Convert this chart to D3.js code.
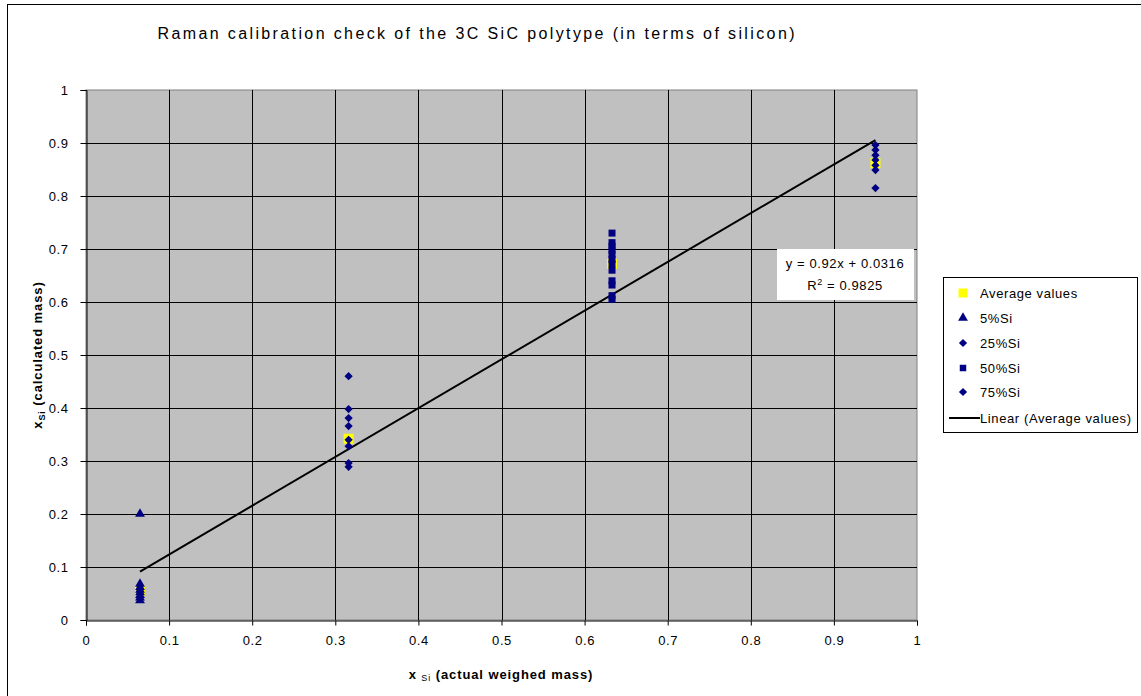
<!DOCTYPE html>
<html><head><meta charset="utf-8">
<script src="https://cdn.jsdelivr.net/npm/d3@7"></script>
<style>body{margin:0;background:#fff;}svg{display:block;font-family:Arial,"Liberation Sans",sans-serif;}</style>
</head><body>
<script>
// ---- data ----
const titleText = "Raman calibration check of the 3C SiC polytype (in terms of silicon)";
const xTicks = [0,0.1,0.2,0.3,0.4,0.5,0.6,0.7,0.8,0.9,1];
const yTicks = [0,0.1,0.2,0.3,0.4,0.5,0.6,0.7,0.8,0.9,1];
const avgX = [0.065, 0.316, 0.633, 0.95];
const avgY = [0.055, 0.342, 0.672, 0.862];
const si5X = 0.065;
const si5Y = [0.2, 0.068, 0.062, 0.057, 0.052, 0.047, 0.042, 0.037];
const si25X = 0.316;
const si25Y = [0.46, 0.398, 0.381, 0.366, 0.34, 0.328, 0.296, 0.289];
const si50X = 0.633;
const si50Y = [0.73, 0.712, 0.705, 0.698, 0.69, 0.68, 0.672, 0.66, 0.64, 0.632, 0.612, 0.605];
const si75X = 0.95;
const si75Y = [0.896, 0.887, 0.877, 0.868, 0.858, 0.849, 0.815];
const trendSlope = 0.92, trendIntercept = 0.0316, r2 = 0.9825;
const legendLabels = ["Average values","5%Si","25%Si","50%Si","75%Si","Linear (Average values)"];

// ---- layout ----
const W = 1141, H = 696;
const L = 86, R = 917, T = 90, B = 620;
const navy = "#000080";
const LS = "0.6px";
const svg = d3.select("body").append("svg").attr("width", W).attr("height", H);

// outer chart border
svg.append("rect").attr("x",7.5).attr("y",4.5).attr("width",W).attr("height",H)
  .attr("fill","#fff").attr("stroke","#000").attr("stroke-width",1);

const x = d3.scaleLinear().domain([0,1]).range([L,R]);
const y = d3.scaleLinear().domain([0,1]).range([B,T]);

// plot area
svg.append("rect").attr("x",L).attr("y",T).attr("width",R-L).attr("height",B-T)
  .attr("fill","#C0C0C0").attr("stroke","#808080").attr("stroke-width",1);

// gridlines
const grid = svg.append("g");
grid.selectAll(".gx").data(xTicks.slice(1,-1)).enter().append("line")
  .attr("x1",d=>Math.round(x(d))+0.5).attr("x2",d=>Math.round(x(d))+0.5)
  .attr("y1",T).attr("y2",B).attr("stroke","#000");
grid.selectAll(".gy").data(yTicks.slice(1,-1)).enter().append("line")
  .attr("y1",d=>Math.round(y(d))+0.5).attr("y2",d=>Math.round(y(d))+0.5)
  .attr("x1",L).attr("x2",R).attr("stroke","#000");

// axes
const xAxis = d3.axisBottom(x).tickValues(xTicks).tickSize(5).tickPadding(8).tickFormat(d3.format("~g"));
const yAxis = d3.axisLeft(y).tickValues(yTicks).tickSize(6).tickPadding(12).tickFormat(d3.format("~g"));
const gx = svg.append("g").attr("transform",`translate(0,${B+0.5})`).call(xAxis);
const gy = svg.append("g").attr("transform",`translate(${L+0.5},0)`).call(yAxis);
[gx,gy].forEach(g=>{
  g.selectAll("text").attr("font-size",13).attr("fill","#000").attr("letter-spacing",LS)
   .attr("font-family","Arial, 'Liberation Sans', sans-serif");
  g.selectAll("line").attr("stroke","#000");
  g.select(".domain").attr("stroke","#000");
});
gx.selectAll("text").attr("dy","0.85em");

// trendline
const x0 = d3.min(avgX), x1 = d3.max(avgX);
svg.append("line")
  .attr("x1",x(x0)).attr("y1",y(trendSlope*x0+trendIntercept))
  .attr("x2",x(x1)).attr("y2",y(trendSlope*x1+trendIntercept))
  .attr("stroke","#000").attr("stroke-width",2);

// markers
const sqPath = s => d3.symbol().type(d3.symbolSquare).size(s)();
const tri = d3.symbol().type(d3.symbolTriangle).size(42);
const diaPath = sqPath(34); // rotated square = diamond
const marks = svg.append("g");
marks.selectAll(".avg").data(avgX.map((v,i)=>[v,avgY[i]])).enter().append("path")
  .attr("d",sqPath(100)).attr("transform",d=>`translate(${x(d[0])},${y(d[1])})`).attr("fill","#FFFF00");
marks.selectAll(".s5").data(si5Y).enter().append("path")
  .attr("d",tri()).attr("transform",d=>`translate(${x(si5X)},${y(d)})`).attr("fill",navy);
marks.selectAll(".s25").data(si25Y).enter().append("path")
  .attr("d",diaPath).attr("transform",d=>`translate(${x(si25X)},${y(d)}) rotate(45)`).attr("fill",navy);
marks.selectAll(".s50").data(si50Y).enter().append("path")
  .attr("d",sqPath(49)).attr("transform",d=>`translate(${x(si50X)},${y(d)})`).attr("fill",navy);
marks.selectAll(".s75").data(si75Y).enter().append("path")
  .attr("d",diaPath).attr("transform",d=>`translate(${x(si75X)},${y(d)}) rotate(45)`).attr("fill",navy);

// equation box
svg.append("rect").attr("x",777).attr("y",249).attr("width",137).attr("height",51).attr("fill","#fff");
svg.append("text").attr("x",845).attr("y",268).attr("text-anchor","middle").attr("font-size",13).attr("letter-spacing",LS)
  .text(`y = ${trendSlope}x + ${trendIntercept}`);
const r2t = svg.append("text").attr("x",845).attr("y",290).attr("text-anchor","middle").attr("font-size",13).attr("letter-spacing",LS);
r2t.append("tspan").text("R");
r2t.append("tspan").attr("font-size",9).attr("dy",-5).text("2");
r2t.append("tspan").attr("dy",5).text(` = ${r2}`);

// title
svg.append("text").attr("x",476).attr("y",39).attr("text-anchor","middle").attr("font-size",16)
  .attr("textLength",637).attr("lengthAdjust","spacing").text(titleText);

// x axis label
const xl = svg.append("text").attr("x",501).attr("y",679).attr("text-anchor","middle").attr("font-size",13)
  .attr("font-weight","bold").attr("letter-spacing","0.9px");
xl.append("tspan").text("x ");
xl.append("tspan").attr("font-size",9).attr("font-weight","normal").attr("dy",2).text("Si");
xl.append("tspan").attr("dy",-2).text(" (actual weighed mass)");

// y axis label
const yl = svg.append("text").attr("transform",`translate(42,${(T+B)/2}) rotate(-90)`).attr("text-anchor","middle")
  .attr("font-size",13).attr("font-weight","bold").attr("letter-spacing","0.9px");
yl.append("tspan").text("x");
yl.append("tspan").attr("font-size",9).attr("dy",3).text("Si");
yl.append("tspan").attr("dy",-3).text(" (calculated mass)");

// legend
const lg = svg.append("g");
lg.append("rect").attr("x",943.5).attr("y",277.5).attr("width",194).attr("height",155).attr("fill","#fff").attr("stroke","#000");
const ly = [293, 318, 343, 368, 392, 418];
lg.selectAll(".lt").data(legendLabels).enter().append("text")
  .attr("x",980).attr("y",(d,i)=>ly[i]+5).attr("font-size",13).attr("letter-spacing",LS).text(d=>d);
lg.append("path").attr("d",sqPath(81)).attr("transform",`translate(963,${ly[0]})`).attr("fill","#FFFF00");
lg.append("path").attr("d",tri()).attr("transform",`translate(963,${ly[1]})`).attr("fill",navy);
lg.append("path").attr("d",diaPath).attr("transform",`translate(963,${ly[2]}) rotate(45)`).attr("fill",navy);
lg.append("path").attr("d",sqPath(42)).attr("transform",`translate(963,${ly[3]})`).attr("fill",navy);
lg.append("path").attr("d",diaPath).attr("transform",`translate(963,${ly[4]}) rotate(45)`).attr("fill",navy);
lg.append("line").attr("x1",949).attr("x2",980).attr("y1",ly[5]).attr("y2",ly[5]).attr("stroke","#000").attr("stroke-width",2);
</script>
</body></html>
